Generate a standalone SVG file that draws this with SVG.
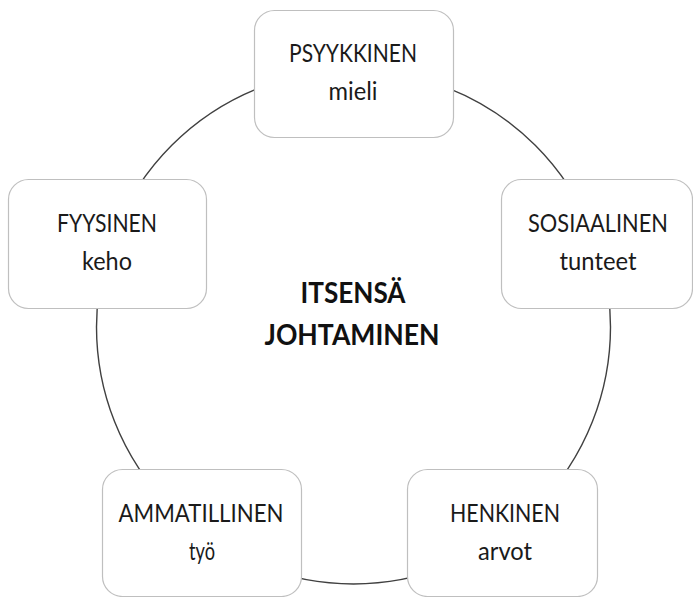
<svg xmlns="http://www.w3.org/2000/svg" width="693" height="597" viewBox="0 0 693 597">
<style>
.box{fill:#ffffff;stroke:#bfbfbf;stroke-width:1.2}
.lbl{font-family:Lato,"Liberation Sans",sans-serif;font-size:25px;fill:#1a1a1a;text-anchor:middle}
.ctr{font-family:Lato,"Liberation Sans",sans-serif;font-size:29px;font-weight:bold;fill:#111111;text-anchor:middle}
.ring{fill:none;stroke:#404040;stroke-width:1.4}
</style>
<rect width="693" height="597" fill="#ffffff"/>
<g id="connectors">
<circle class="ring" cx="353.5" cy="327" r="257"/>
</g>
<g id="center">
<text class="ctr" x="353" y="303" textLength="105" lengthAdjust="spacingAndGlyphs">ITSENSÄ</text>
<text class="ctr" x="352" y="345" textLength="175" lengthAdjust="spacingAndGlyphs">JOHTAMINEN</text>
</g>
<g id="psyykkinen">
<rect class="box" x="254.5" y="10.5" width="199" height="127" rx="20"/>
<text class="lbl" x="353" y="62" textLength="128" lengthAdjust="spacingAndGlyphs">PSYYKKINEN</text>
<text class="lbl" x="353" y="100" textLength="49" lengthAdjust="spacingAndGlyphs">mieli</text>
</g>
<g id="fyysinen">
<rect class="box" x="8.5" y="179.5" width="198" height="129" rx="20"/>
<text class="lbl" x="107" y="232" textLength="100" lengthAdjust="spacingAndGlyphs">FYYSINEN</text>
<text class="lbl" x="107" y="270" textLength="50" lengthAdjust="spacingAndGlyphs">keho</text>
</g>
<g id="sosiaalinen">
<rect class="box" x="501.5" y="179.5" width="191" height="129" rx="20"/>
<text class="lbl" x="598" y="232" textLength="140" lengthAdjust="spacingAndGlyphs">SOSIAALINEN</text>
<text class="lbl" x="598" y="270" textLength="77" lengthAdjust="spacingAndGlyphs">tunteet</text>
</g>
<g id="ammatillinen">
<rect class="box" x="102.5" y="469.5" width="199" height="127" rx="20"/>
<text class="lbl" x="201" y="522" textLength="165" lengthAdjust="spacingAndGlyphs">AMMATILLINEN</text>
<text class="lbl" x="202" y="560" textLength="26" lengthAdjust="spacingAndGlyphs">työ</text>
</g>
<g id="henkinen">
<rect class="box" x="407.5" y="469.5" width="190" height="127" rx="20"/>
<text class="lbl" x="505" y="522" textLength="110" lengthAdjust="spacingAndGlyphs">HENKINEN</text>
<text class="lbl" x="505" y="560" textLength="54" lengthAdjust="spacingAndGlyphs">arvot</text>
</g>
</svg>
